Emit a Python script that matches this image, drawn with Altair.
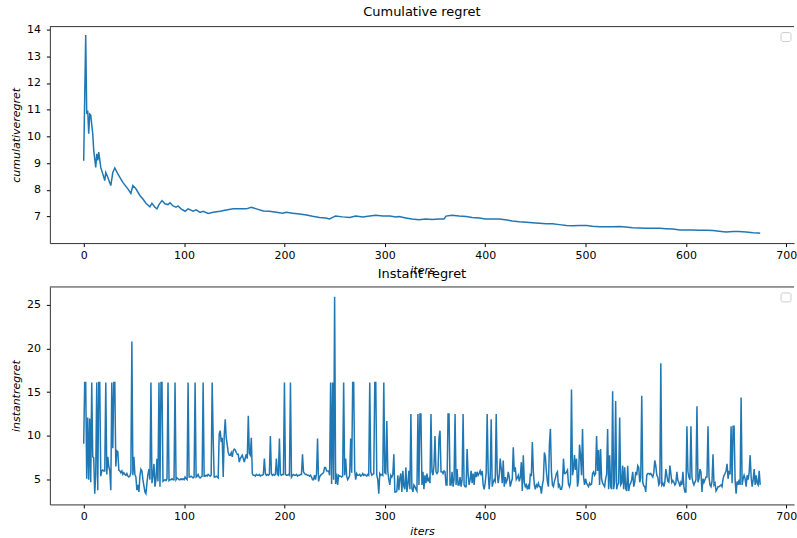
import altair as alt
import pandas as pd

# Instant regret per iteration (iterations 0..674)
instant_regret = [
    9.1, 16.1, 16.1, 5.1, 12.1, 5.0, 12.0, 4.7, 16.1, 7.6,
    7.5, 3.4, 5.6, 16.1, 3.8, 16.1, 16.1, 5.4, 6.0, 6.1,
    6.0, 6.0, 16.1, 5.6, 7.6, 6.5, 6.0, 3.8, 16.1, 8.6,
    16.1, 16.1, 6.5, 8.3, 8.2, 6.1, 6.0, 5.8, 6.0, 5.6,
    5.8, 5.6, 5.5, 5.7, 5.4, 5.3, 5.4, 5.8, 20.8, 5.5,
    7.6, 5.6, 5.3, 3.8, 4.4, 3.6, 5.4, 6.2, 6.0, 5.0,
    4.3, 3.6, 3.4, 4.6, 5.6, 6.2, 5.0, 16.1, 4.6, 5.4,
    6.8, 4.2, 5.0, 7.4, 4.8, 16.1, 4.2, 16.1, 16.1, 4.8,
    4.9, 5.0, 4.9, 5.1, 16.1, 4.9, 5.0, 5.0, 5.1, 5.0,
    5.0, 16.1, 5.0, 5.2, 5.1, 5.0, 5.0, 5.1, 5.0, 5.1,
    5.0, 5.3, 5.1, 5.0, 16.1, 5.3, 5.3, 5.4, 5.3, 5.2,
    5.3, 16.1, 5.3, 5.4, 5.6, 5.3, 5.2, 5.3, 5.4, 16.1,
    5.4, 5.4, 5.5, 5.4, 5.6, 5.5, 5.4, 5.5, 16.1, 9.7,
    5.3, 5.3, 5.4, 5.3, 5.2, 10.2, 10.6, 9.3, 9.8, 5.3,
    10.0, 11.9, 9.8, 9.0, 8.1, 7.8, 7.8, 8.1, 7.6, 8.3,
    8.5, 8.4, 8.1, 7.9, 7.9, 7.0, 7.4, 7.6, 7.8, 7.4,
    7.0, 7.5, 7.9, 7.4, 12.3, 8.0, 7.8, 9.8, 5.7, 5.5,
    5.5, 5.4, 5.6, 5.5, 5.5, 5.6, 5.4, 5.5, 5.5, 5.6,
    7.4, 5.7, 5.5, 5.6, 5.5, 5.6, 10.0, 5.7, 5.5, 5.6,
    5.5, 5.6, 7.4, 5.6, 5.5, 9.7, 5.6, 5.5, 5.6, 5.6,
    16.1, 5.6, 5.5, 5.5, 5.6, 5.5, 16.1, 5.3, 5.5, 5.6,
    5.5, 5.5, 5.6, 5.4, 5.5, 5.5, 5.6, 5.6, 7.9, 5.9,
    5.7, 5.6, 5.6, 5.5, 5.5, 5.4, 5.5, 5.3, 5.0, 5.0,
    5.5, 5.0, 5.7, 9.7, 4.8, 5.3, 5.5, 5.6, 5.7, 5.8,
    6.4, 6.4, 6.0, 6.0, 6.0, 5.5, 16.1, 4.5, 16.1, 5.0,
    25.9, 4.5, 5.7, 4.4, 5.5, 5.4, 5.4, 5.3, 5.4, 16.1,
    5.5, 7.4, 5.4, 5.0, 5.2, 5.5, 9.7, 5.8, 16.1, 16.1,
    6.0, 5.0, 5.7, 5.5, 5.5, 5.6, 5.4, 5.5, 5.7, 5.5,
    5.6, 5.5, 5.4, 5.6, 5.5, 16.1, 5.9, 5.5, 5.6, 5.7,
    16.1, 16.1, 5.5, 5.0, 3.4, 5.7, 5.5, 5.6, 5.5, 16.1,
    5.8, 5.7, 11.7, 5.9, 5.0, 4.4, 5.5, 5.3, 5.6, 7.9,
    3.6, 3.6, 3.7, 5.5, 3.8, 5.2, 5.7, 3.6, 6.0, 4.2,
    3.9, 6.4, 3.6, 4.5, 6.0, 3.9, 12.5, 4.0, 3.6, 4.4,
    4.2, 3.9, 3.7, 12.5, 4.4, 12.5, 12.5, 4.4, 5.9, 3.9,
    5.5, 4.6, 5.7, 4.8, 5.1, 4.6, 12.5, 5.9, 5.5, 6.6,
    10.0, 5.9, 5.7, 5.9, 9.8, 10.6, 5.9, 5.9, 5.7, 6.0,
    5.9, 4.4, 4.4, 12.5, 12.5, 4.4, 4.4, 5.9, 4.2, 5.0,
    12.5, 4.4, 6.2, 4.4, 4.4, 5.3, 4.2, 5.0, 12.5, 4.4,
    4.2, 4.2, 8.5, 5.6, 4.4, 5.0, 6.0, 4.6, 5.7, 4.4,
    5.9, 5.3, 5.9, 5.5, 5.7, 6.0, 5.5, 6.0, 4.4, 3.9,
    4.6, 5.8, 12.5, 5.9, 3.9, 5.3, 11.9, 4.2, 4.7, 5.0,
    4.8, 12.5, 5.7, 4.6, 5.5, 7.4, 6.2, 4.6, 7.2, 4.2,
    5.3, 4.7, 5.0, 5.9, 5.3, 4.2, 4.7, 5.1, 8.7, 5.9,
    6.4, 5.0, 5.2, 5.5, 4.8, 5.3, 7.0, 3.7, 7.8, 4.7,
    4.2, 4.4, 3.9, 4.3, 3.9, 5.7, 5.4, 9.3, 5.9, 4.4,
    3.9, 4.4, 4.2, 4.6, 4.2, 4.2, 3.4, 4.4, 5.0, 8.1,
    7.6, 5.9, 4.8, 4.2, 9.0, 10.8, 5.9, 4.4, 4.2, 4.8,
    5.2, 5.7, 5.9, 4.2, 4.4, 3.9, 3.9, 4.4, 7.4, 5.7,
    5.7, 5.9, 6.1, 4.5, 4.2, 4.7, 15.3, 5.5, 6.2, 7.8,
    6.1, 7.4, 4.2, 5.0, 9.0, 7.8, 5.5, 10.8, 5.3, 4.4,
    5.1, 4.6, 4.4, 4.2, 4.6, 4.4, 4.5, 5.7, 5.9, 5.5,
    5.7, 10.0, 6.0, 8.4, 4.4, 8.5, 5.1, 4.6, 4.4, 4.2,
    5.1, 5.6, 10.8, 3.9, 7.8, 4.2, 3.9, 15.1, 3.9, 4.8,
    14.0, 3.9, 4.4, 4.6, 12.1, 4.4, 4.6, 6.6, 3.9, 6.4,
    4.0, 3.7, 6.6, 3.7, 4.4, 4.6, 5.0, 5.9, 4.2, 4.7,
    5.9, 5.5, 6.6, 6.4, 4.7, 5.2, 14.6, 4.7, 4.3, 4.2,
    3.6, 5.5, 5.7, 5.7, 5.6, 5.7, 5.5, 5.3, 5.8, 7.2,
    6.6, 5.5, 5.3, 4.4, 4.6, 18.3, 4.4, 4.6, 4.2, 4.7,
    6.2, 5.5, 4.8, 4.7, 6.6, 5.7, 4.7, 4.9, 4.7, 4.4,
    4.6, 5.9, 4.9, 4.7, 4.2, 4.7, 4.4, 5.9, 4.2, 3.6,
    3.6, 11.1, 5.9, 5.3, 5.0, 11.1, 5.3, 4.7, 4.4, 4.7,
    5.0, 13.4, 4.7, 5.1, 6.2, 5.9, 3.6, 5.1, 4.7, 5.0,
    5.3, 5.3, 11.1, 5.3, 4.4, 4.2, 4.8, 7.9, 4.4, 4.6,
    3.7, 3.9, 4.2, 4.2, 4.3, 4.4, 4.2, 5.1, 5.5, 5.7,
    6.0, 6.8, 5.1, 6.0, 5.6, 11.1, 4.6, 11.1, 11.1, 5.0,
    3.4, 4.8, 4.4, 5.0, 4.4, 14.4, 4.4, 5.1, 5.5, 5.1,
    4.2, 5.5, 5.0, 5.8, 7.8, 5.3, 4.2, 5.0, 6.2, 4.4,
    5.5, 4.6, 4.4, 6.0, 4.4,
]
instant_iters = list(range(len(instant_regret)))

# Cumulative regret sampled along the run
cum_iters = [
    0, 2, 3, 4, 5, 6, 7, 9, 10, 12, 13, 14, 15, 17, 19, 21, 22, 24, 27, 29,
    31, 34, 39, 44, 47, 49, 52, 56, 59, 62, 66, 68, 71, 73, 75, 78, 81, 84, 86, 89,
    92, 94, 97, 101, 104, 109, 112, 116, 119, 124, 129, 136, 142, 149, 155, 162, 167, 172, 179, 185,
    192, 198, 202, 208, 215, 222, 228, 235, 241, 245, 248, 251, 258, 265, 271, 278, 285, 291, 298, 305,
    311, 314, 321, 327, 334, 341, 347, 354, 359, 361, 367, 374, 381, 387, 394, 400, 407, 414, 420, 427,
    434, 441, 447, 454, 461, 467, 474, 481, 487, 494, 501, 507, 514, 520, 527, 534, 540, 547, 554, 560,
    567, 574, 580, 587, 594, 600, 607, 613, 620, 627, 633, 640, 647, 653, 660, 667, 672, 674,
]
cum_regret = [
    9.09, 13.8, 10.84, 10.97, 10.1, 10.84, 10.8, 10.1, 9.47, 8.84, 9.35, 9.1, 9.41, 8.84, 8.6, 8.35, 8.65, 8.47, 8.16, 8.65,
    8.82, 8.6, 8.28, 8.04, 7.87, 8.16, 8.04, 7.79, 7.66, 7.5, 7.37, 7.5, 7.35, 7.29, 7.45, 7.6, 7.48, 7.45, 7.52, 7.4,
    7.35, 7.4, 7.29, 7.2, 7.29, 7.2, 7.25, 7.16, 7.2, 7.12, 7.16, 7.2, 7.25, 7.29, 7.29, 7.29, 7.35, 7.29, 7.21, 7.2,
    7.16, 7.13, 7.16, 7.13, 7.1, 7.06, 7.01, 6.97, 6.95, 6.91, 6.97, 7.02, 6.99, 6.97, 7.02, 6.99, 7.02, 7.05, 7.02, 7.02,
    6.99, 7.0, 6.95, 6.91, 6.88, 6.91, 6.89, 6.91, 6.91, 7.02, 7.05, 7.02, 7.0, 6.97, 6.95, 6.91, 6.91, 6.91, 6.88, 6.84,
    6.81, 6.79, 6.77, 6.75, 6.73, 6.73, 6.7, 6.67, 6.66, 6.67, 6.67, 6.64, 6.62, 6.62, 6.62, 6.63, 6.61, 6.58, 6.57, 6.56,
    6.56, 6.56, 6.55, 6.54, 6.5, 6.5, 6.5, 6.49, 6.49, 6.48, 6.45, 6.42, 6.44, 6.44, 6.42, 6.4, 6.39, 6.38,
]

x_ticks = [0, 100, 200, 300, 400, 500, 600, 700]
cum_ticks = [7, 8, 9, 10, 11, 12, 13, 14]
inst_ticks = [5, 10, 15, 20, 25]

FONT = "DejaVu Sans"
BLUE = "#1f77b4"
SPINE = "#333333"
W = 746

cum_df = pd.DataFrame({"iters": cum_iters, "cumulativeregret": cum_regret})
inst_df = pd.DataFrame({"iters": instant_iters, "instantregret": instant_regret})
one_row = pd.DataFrame({"k": [0]})


def panel(df, field, title, ydomain, yticks, height):
    line = alt.Chart(df).mark_line(color=BLUE, strokeWidth=1.5).encode(
        x=alt.X("iters:Q",
                scale=alt.Scale(domain=[-33.7, 707.7], nice=False, zero=False),
                axis=alt.Axis(values=x_ticks, format="d", title="iters")),
        y=alt.Y(f"{field}:Q",
                scale=alt.Scale(domain=ydomain, nice=False, zero=False),
                axis=alt.Axis(values=yticks, format="d", title=field)),
    )
    # top spine (the right one lies outside the visible frame)
    top_spine = alt.Chart(one_row).mark_rule(color=SPINE, strokeWidth=1).encode(
        x=alt.value(0), x2=alt.value(W), y=alt.value(0)
    )
    # empty legend frame in the upper-right corner
    legend_box = alt.Chart(one_row).mark_rect(
        fill="white", stroke="#cccccc", strokeWidth=1, cornerRadius=2
    ).encode(x=alt.value(733), x2=alt.value(743), y=alt.value(6), y2=alt.value(15))
    return alt.layer(line, top_spine, legend_box).properties(
        width=W,
        height=height,
        title=alt.TitleParams(title, font=FONT, fontSize=13, fontWeight="normal",
                              color="#000000", offset=5),
    )


top = panel(cum_df, "cumulativeregret", "Cumulative regret", [6.01, 14.11], cum_ticks, 217)
bottom = panel(inst_df, "instantregret", "Instant regret", [2.17, 27.03], inst_ticks, 218)

chart = (
    alt.vconcat(top, bottom, spacing=44, bounds="flush")
    .properties(padding={"left": 11, "top": 4, "right": 0, "bottom": 0})
    .configure_view(stroke=None)
    .configure_axis(
        labelFont=FONT, labelFontSize=11, labelColor="#000000",
        titleFont=FONT, titleFontSize=11, titleFontStyle="italic",
        titleFontWeight="normal", titleColor="#000000",
        tickColor="#000000", tickSize=3.5, domainColor=SPINE, domainWidth=1,
        grid=False,
    )
    .configure_axisX(labelPadding=3, titlePadding=4)
    .configure_axisY(labelPadding=6, titlePadding=4, minExtent=24, maxExtent=24)
)

chart.save("out.html", embed_options={"renderer": "svg", "actions": False})
